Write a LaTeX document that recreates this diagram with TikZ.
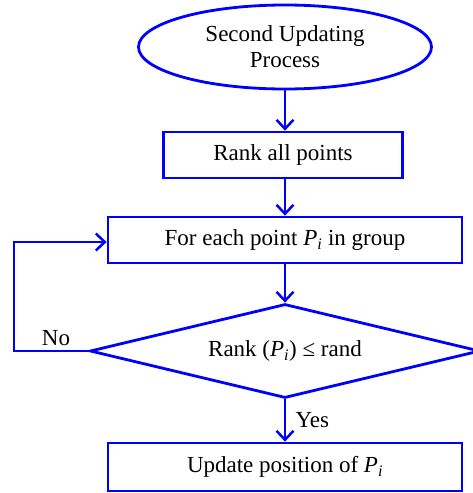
\documentclass[tikz,border=0pt]{standalone}
\usepackage{fontspec}
\setmainfont{Liberation Serif}
\usetikzlibrary{shapes.geometric,arrows.meta}
\newcommand{\Pii}{\textit{P}\textsubscript{\textit{i}}}
\begin{document}
\begin{tikzpicture}[x=1pt,y=1pt,
  every node/.style={font=\fontsize{23}{26}\selectfont},
  boxstyle/.style={draw=blue,line width=2.8pt,rectangle,inner sep=0pt},
  arr/.style={draw=blue,line width=2.5pt,-{Straight Barb[length=9pt,width=17pt,line width=2.5pt]}}]
\useasboundingbox (0,0) rectangle (473,-493);
\node[draw=blue,line width=2.8pt,ellipse,minimum width=293pt,minimum height=84pt,inner sep=0pt,align=center] (start) at (285,-47) {Second Updating\\Process};
\node[boxstyle,minimum width=239pt,minimum height=46pt] (rank) at (283,-155) {Rank all points};
\node[boxstyle,minimum width=354pt,minimum height=46pt] (each) at (285,-240) {For each point \Pii{} in group};
\node[draw=blue,line width=2.8pt,diamond,aspect=4.15,minimum width=390pt,minimum height=94pt,inner sep=0pt] (dec) at (285,-351) {Rank (\Pii) ≤ rand};
\node[boxstyle,minimum width=354pt,minimum height=48pt] (upd) at (285,-467) {Update position of \Pii};
\coordinate (c1) at (14,-351);
\coordinate (c2) at (14,-242);
\draw[arr] (start.south) -- (start.south |- rank.north);
\draw[arr] (rank.south -| each.north) -- (each.north);
\draw[arr] (each.south) -- (dec.north);
\draw[arr] (dec.south) -- node[right=6pt] (yes) {Yes} (upd.north);
\draw[arr] (dec.west) -- (c1) -- (c2) -- (each.west |- c2);
\node (no) at (56,-338) {No};
\end{tikzpicture}
\end{document}
